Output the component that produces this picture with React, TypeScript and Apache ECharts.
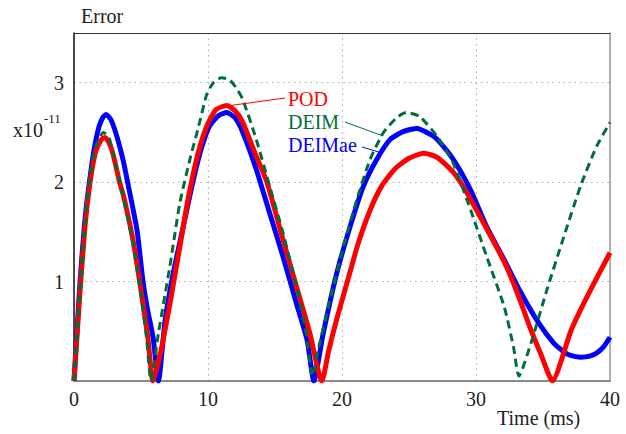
import React, { useEffect, useRef } from "react";
import * as echarts from "echarts";

// Time (ms) / Error (x1e-11) samples
const podData: [number, number][] = [
  [0, 0], [0.25, 0.5], [0.5, 1.0], [0.85, 1.6], [1.2, 2.0], [1.6, 2.3], [2.0, 2.42], [2.3, 2.45], [2.6, 2.4],
  [2.9, 2.29], [3.4, 2.0], [3.7, 1.86], [4.4, 1.42], [4.9, 1.0], [5.5, 0.45], [5.9, 0],
  [6.5, 0.31], [7.2, 0.81], [7.9, 1.35], [8.5, 1.82], [9.2, 2.26], [9.9, 2.56], [10.6, 2.73], [11.4, 2.77],
  [12.0, 2.72], [12.6, 2.6], [13.6, 2.26], [14.4, 2.0], [15.6, 1.42], [16.6, 0.95], [17.6, 0.48], [18.5, 0],
  [19.0, 0.3], [19.6, 0.62], [20.4, 1.0], [21.2, 1.38], [22.1, 1.72], [23.0, 1.97], [24.0, 2.14], [25.0, 2.24],
  [26.1, 2.29], [27.1, 2.25], [28.3, 2.1], [29.2, 1.92], [30.8, 1.53], [32.1, 1.2], [33.1, 0.88], [34.0, 0.55],
  [34.9, 0.25], [35.7, 0], [37.1, 0.51], [38.3, 0.85], [40, 1.29],
];

const deimData: [number, number][] = [
  [0, 0], [0.25, 0.5], [0.5, 1.0], [0.85, 1.65], [1.2, 2.05], [1.6, 2.35], [2.2, 2.5], [2.6, 2.45], [2.9, 2.3],
  [3.6, 1.9], [4.3, 1.45], [4.9, 0.95], [5.4, 0.45], [5.75, 0],
  [6.3, 0.48], [7.15, 1.15], [7.9, 1.79], [8.65, 2.23], [9.3, 2.56], [9.9, 2.88], [10.4, 3.0], [11.0, 3.05],
  [11.6, 3.03], [12.1, 2.95], [12.6, 2.83], [13.6, 2.43], [14.6, 1.96], [15.6, 1.49], [16.6, 0.95], [17.3, 0.5],
  [17.8, 0.05], [18.2, 0.3], [19.1, 0.81], [20.1, 1.35], [21.1, 1.82], [22.1, 2.23], [23.1, 2.5], [24.1, 2.65],
  [24.8, 2.7], [25.8, 2.66], [27.1, 2.46], [28.3, 2.19], [29.6, 1.72], [30.8, 1.25], [32.1, 0.75], [32.8, 0.34],
  [33.2, 0.05], [34.1, 0.38], [35.3, 0.92], [36.55, 1.45], [37.8, 1.96], [39.0, 2.36], [40, 2.6],
];

const deimaeData: [number, number][] = [
  [0, 0], [0.2, 0.45], [0.45, 1.0], [0.8, 1.6], [1.15, 2.0], [1.5, 2.33], [1.85, 2.55], [2.15, 2.65], [2.4, 2.68],
  [2.75, 2.63], [3.2, 2.46], [3.7, 2.2], [4.0, 2.0], [4.7, 1.52], [5.15, 1.0], [5.5, 0.71], [5.9, 0.44], [6.3, 0],
  [6.8, 0.61], [7.4, 1.08], [8.15, 1.55], [8.8, 1.96], [9.4, 2.29], [10.1, 2.56], [10.8, 2.67], [11.4, 2.7],
  [12.0, 2.65], [12.6, 2.5], [13.6, 2.13], [14.6, 1.69], [15.6, 1.25], [16.6, 0.78], [17.4, 0.41], [17.9, 0],
  [18.6, 0.48], [19.6, 1.08], [20.6, 1.55], [21.6, 1.96], [22.6, 2.23], [23.6, 2.43], [24.6, 2.51], [25.6, 2.54],
  [26.6, 2.48], [27.1, 2.43], [28.3, 2.23], [29.6, 1.92], [30.8, 1.55], [32.1, 1.22], [33.3, 0.9], [34.6, 0.6],
  [35.8, 0.38], [36.5, 0.3], [37.0, 0.26], [37.8, 0.24], [38.5, 0.25], [39.0, 0.28], [39.5, 0.34], [40, 0.44],
];

const xTicks = [0, 10, 20, 30, 40];
const yTicks = [1, 2, 3];

const SERIF = "Liberation Serif, Times New Roman, DejaVu Serif, serif";
const RED = "#ff0000";
const GREEN = "#006e3a";
const BLUE = "#0000ff";

export default function App() {
  const ref = useRef<HTMLDivElement>(null);

  useEffect(() => {
    if (!ref.current) return;
    const chart = echarts.init(ref.current, undefined, { renderer: "svg" });
    const labelStyle = { fontFamily: SERIF, fontSize: 20, color: "#222" };
    const dotted = { color: "#aaa", width: 1, type: [1.5, 4] as any };
    const txt = (text: string, x: number, y: number, size: number, fill: string) => ({
      type: "text", x, y, z: 10,
      style: { text, font: `${size}px ${SERIF}`, fill, verticalAlign: "middle" },
    });

    chart.setOption({
      animation: false,
      backgroundColor: "#fff",
      textStyle: { fontFamily: SERIF },
      grid: { left: 74, right: 16, top: 33, bottom: 53 },
      xAxis: [
        {
          type: "value", min: 0, max: 40, interval: 10,
          axisLine: { lineStyle: { color: "#8a8a8a", width: 2 } },
          axisTick: { show: false },
          splitLine: { show: true, lineStyle: dotted },
          axisLabel: {
            ...labelStyle, margin: 8,
            formatter: (v: number) => (xTicks.includes(v) ? String(v) : ""),
          },
        },
        {
          type: "value", min: 0, max: 40, position: "top",
          axisLine: { onZero: false, lineStyle: { color: "#333", width: 1 } },
          axisTick: { show: false }, axisLabel: { show: false }, splitLine: { show: false },
        },
      ],
      yAxis: [
        {
          type: "value", min: 0, max: 3.5, interval: 1,
          axisLine: { show: true, lineStyle: { color: "#111", width: 1.5 } },
          axisTick: { show: false },
          splitLine: { show: true, lineStyle: dotted },
          axisLabel: {
            ...labelStyle, margin: 10, showMaxLabel: false,
            formatter: (v: number) => (yTicks.includes(v) ? String(v) : ""),
          },
        },
        {
          type: "value", min: 0, max: 3.5, position: "right",
          axisLine: { show: true, onZero: false, lineStyle: { color: "#999", width: 1.5 } },
          axisTick: { show: false }, axisLabel: { show: false }, splitLine: { show: false },
        },
      ],
      series: [
        {
          name: "DEIMae", type: "line", data: deimaeData, showSymbol: false, z: 2, smooth: 0.2,
          lineStyle: { color: BLUE, width: 5 },
        },
        {
          name: "POD", type: "line", data: podData, showSymbol: false, z: 3, smooth: 0.2,
          lineStyle: { color: RED, width: 5 },
        },
        {
          name: "DEIM", type: "line", data: deimData, showSymbol: false, z: 4, smooth: 0.2,
          lineStyle: { color: GREEN, width: 3, type: [8, 5] },
        },
      ],
      graphic: [
        txt("Error", 81, 16, 20, "#222"),
        txt("x10", 13, 130, 20, "#222"),
        txt("-11", 44, 118, 13, "#222"),
        txt("Time (ms)", 497, 418, 20, "#222"),
        txt("POD", 288, 99, 20, RED),
        txt("DEIM", 288, 122, 20, GREEN),
        txt("DEIMae", 288, 145, 20, BLUE),
        { type: "line", z: 10, shape: { x1: 227, y1: 106, x2: 285, y2: 98 }, style: { stroke: RED, lineWidth: 1 } },
        { type: "line", z: 10, shape: { x1: 345, y1: 122, x2: 383, y2: 136 }, style: { stroke: GREEN, lineWidth: 1 } },
        { type: "line", z: 10, shape: { x1: 362, y1: 147, x2: 382, y2: 153 }, style: { stroke: BLUE, lineWidth: 1 } },
      ],
    });
    return () => chart.dispose();
  }, []);

  return (
    <div
      ref={ref}
      style={{ position: "fixed", left: 0, top: 0, width: 626, height: 434, background: "#fff" }}
    />
  );
}
